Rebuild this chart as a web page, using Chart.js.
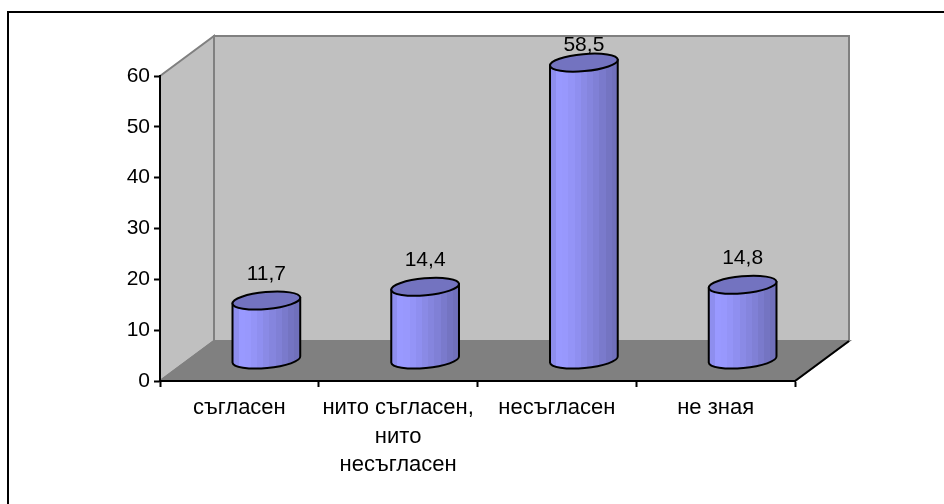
<!DOCTYPE html>
<html lang="bg">
<head>
  <meta charset="UTF-8">
  <title>Диаграма</title>
  <script src="https://cdn.jsdelivr.net/npm/chart.js"></script>
  <style>
    html, body { margin: 0; padding: 0; background: #fff; overflow: hidden; }
    #wrap { position: absolute; left: 0; top: 0; width: 944px; height: 504px; }
    #frame { position: absolute; left: 7px; top: 11px; width: 937px; height: 493px;
             box-sizing: border-box; border-left: 2px solid #000; border-top: 2px solid #000; }
    canvas { position: absolute; left: 0; top: 0; }
  </style>
</head>
<body>
  <div id="wrap">
    <div id="frame"></div>
    <canvas id="chart" width="944" height="504"></canvas>
  </div>

  <script>
    const categories = ['съгласен', ['нито съгласен,', 'нито', 'несъгласен'], 'несъгласен', 'не зная'];
    const values = [11.7, 14.4, 58.5, 14.8];
    const valueLabels = ['11,7', '14,4', '58,5', '14,8'];
    const yTicks = [0, 10, 20, 30, 40, 50, 60];

    // fake 3D depth of the box, in pixels
    const DEPTH_X = 54;
    const DEPTH_Y = 40;
    const BAR_LIFT = 21;
    const FONT = '"Liberation Sans", Arial, sans-serif';
    // vertical shading strips of the cylinder, left to right
    const STRIPS = ['#8e8eee', '#9999ff', '#9898fd', '#9494f7', '#8f8ff0', '#8a8ae6', '#8585de', '#8080d6', '#7a7acc', '#7474c2', '#7070bb'];

    // walls and floor go behind the axes, from the scale positions
    const boxPlugin = {
      id: 'box',
      beforeDraw(chart) {
        const { ctx, chartArea: a } = chart;
        ctx.save();
        ctx.lineWidth = 2;
        ctx.strokeStyle = '#808080';
        // left wall
        ctx.fillStyle = '#c0c0c0';
        poly(ctx, [[a.left, a.top], [a.left + DEPTH_X, a.top - DEPTH_Y], [a.left + DEPTH_X, a.bottom - DEPTH_Y], [a.left, a.bottom]]);
        // back wall
        poly(ctx, [[a.left + DEPTH_X, a.top - DEPTH_Y], [a.right + DEPTH_X, a.top - DEPTH_Y], [a.right + DEPTH_X, a.bottom - DEPTH_Y], [a.left + DEPTH_X, a.bottom - DEPTH_Y]]);
        // floor
        ctx.fillStyle = '#808080';
        poly(ctx, [[a.left, a.bottom], [a.left + DEPTH_X, a.bottom - DEPTH_Y], [a.right + DEPTH_X, a.bottom - DEPTH_Y], [a.right, a.bottom]]);
        // front floor edge to the right
        ctx.strokeStyle = '#000';
        ctx.beginPath();
        ctx.moveTo(a.right, a.bottom);
        ctx.lineTo(a.right + DEPTH_X, a.bottom - DEPTH_Y);
        ctx.stroke();
        ctx.restore();
      }
    };

    function poly(ctx, pts) {
      ctx.beginPath();
      pts.forEach((p, i) => i ? ctx.lineTo(p[0], p[1]) : ctx.moveTo(p[0], p[1]));
      ctx.closePath();
      ctx.fill();
      ctx.stroke();
    }

    // turns each bar element into a cylinder sitting halfway into the box
    const cylinderPlugin = {
      id: 'cylinder',
      afterDatasetsDraw(chart) {
        const { ctx, chartArea: a } = chart;
        const meta = chart.getDatasetMeta(0);
        meta.data.forEach((bar, i) => {
          const cx = bar.x + DEPTH_X / 2;
          const rx = bar.width / 2;
          const ry = 8.5;
          const tilt = -0.09;
          const top = bar.y - BAR_LIFT;
          const bottom = bar.base - BAR_LIFT;

          ctx.save();
          const g = ctx.createLinearGradient(cx - rx, 0, cx + rx, 0);
          STRIPS.forEach((c, k) => {
            g.addColorStop(k / STRIPS.length, c);
            g.addColorStop((k + 1) / STRIPS.length, c);
          });
          ctx.fillStyle = g;
          ctx.strokeStyle = '#000';
          ctx.lineWidth = 2;
          ctx.lineJoin = 'round';

          ctx.beginPath();
          ctx.ellipse(cx, bottom, rx, ry, tilt, 0, Math.PI);
          ctx.lineTo(cx - rx * Math.cos(tilt), top - rx * Math.sin(tilt));
          ctx.lineTo(cx + rx * Math.cos(tilt), top + rx * Math.sin(tilt));
          ctx.closePath();
          ctx.fill();
          ctx.stroke();

          ctx.fillStyle = '#7373c0';
          ctx.beginPath();
          ctx.ellipse(cx, top, rx, ry, tilt, 0, Math.PI * 2);
          ctx.fill();
          ctx.stroke();

          // label stops at the top of the box, as 58,5 does
          ctx.fillStyle = '#000';
          ctx.font = '21px ' + FONT;
          ctx.textAlign = 'center';
          ctx.textBaseline = 'alphabetic';
          ctx.fillText(valueLabels[i], cx, Math.max(top - 21, a.top - DEPTH_Y + 15));
          ctx.restore();
        });
      }
    };

    new Chart(document.getElementById('chart'), {
      type: 'bar',
      data: {
        labels: categories,
        datasets: [{
          data: values,
          backgroundColor: 'rgba(0,0,0,0)',
          borderWidth: 0,
          barThickness: 68
        }]
      },
      options: {
        responsive: false,
        animation: false,
        layout: { padding: { left: 120, right: 149, top: 76, bottom: 0 } },
        plugins: { legend: { display: false }, tooltip: { enabled: false } },
        scales: {
          x: {
            afterFit(s) { s.height = 123; },
            grid: { drawOnChartArea: false, color: '#000', tickLength: 6, tickWidth: 2 },
            border: { color: '#000', width: 2 },
            ticks: {
              color: '#000', maxRotation: 0, autoSkip: false, padding: 7,
              font: { family: FONT, size: 22, lineHeight: 1.29 }
            }
          },
          y: {
            min: 0,
            max: 60,
            afterFit(s) { s.width = 40; },
            afterBuildTicks(s) { s.ticks = yTicks.map(v => ({ value: v })); },
            grid: { drawOnChartArea: false, color: '#000', tickLength: 6, tickWidth: 2 },
            border: { color: '#000', width: 2 },
            ticks: { color: '#000', padding: 4, font: { family: FONT, size: 21 } }
          }
        }
      },
      plugins: [boxPlugin, cylinderPlugin]
    });
  </script>
</body>
</html>
